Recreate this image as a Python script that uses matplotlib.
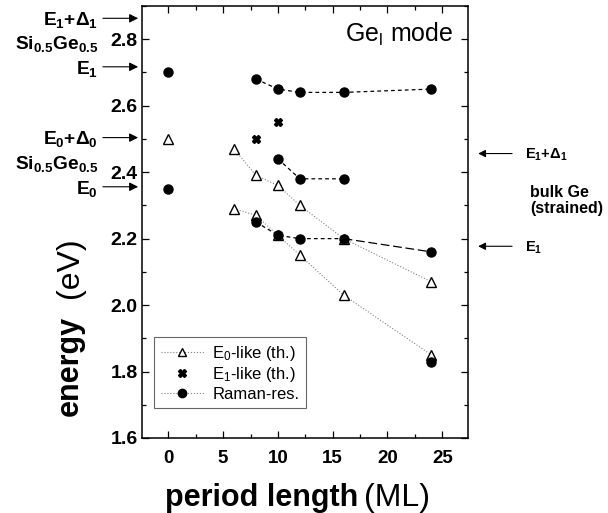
import matplotlib
matplotlib.use('Agg')
import matplotlib.pyplot as plt
from matplotlib.ticker import MultipleLocator
from matplotlib.lines import Line2D
from matplotlib.transforms import offset_copy

plt.rcParams['font.family'] = ['Liberation Sans', 'DejaVu Sans']
plt.rcParams['mathtext.default'] = 'regular'

# ---- data ----
e0_x = [6, 8, 10, 12, 16, 24]
e0_upper = [2.47, 2.39, 2.36, 2.30, 2.20, 2.07]
e0_lower = [2.29, 2.27, 2.21, 2.15, 2.03, 1.85]
e0_bulk_x = [0]
e0_bulk_y = [2.50]
e1_x = [8, 10]
e1_y = [2.50, 2.55]
raman_bulk_x = [0, 0]
raman_bulk_y = [2.70, 2.35]
raman_top_x = [8, 10, 12, 16, 24]
raman_top_y = [2.68, 2.65, 2.64, 2.64, 2.65]
raman_mid_x = [10, 12, 16]
raman_mid_y = [2.44, 2.38, 2.38]
raman_low_x = [8, 10, 12, 16, 24]
raman_low_y = [2.25, 2.21, 2.20, 2.20, 2.16]
raman_extra_x = [24]
raman_extra_y = [1.83]

x_ticks = [0, 5, 10, 15, 20, 25]
y_ticks = [1.6, 1.8, 2.0, 2.2, 2.4, 2.6, 2.8]

left_labels = ['E$_1$+Δ$_1$', 'E$_1$', 'E$_0$+Δ$_0$', 'E$_0$']
left_levels = [2.863, 2.717, 2.504, 2.356]
alloy_label = 'Si$_{0.5}$Ge$_{0.5}$'
alloy_levels = [2.792, 2.431]
right_labels = ['E$_1$+Δ$_1$', 'E$_1$']
right_levels = [2.456, 2.177]

fig = plt.figure(figsize=(6.08, 5.13), dpi=100)
ax = fig.add_axes([0.2336, 0.1462, 0.5362, 0.8421])

dotc = '0.5'
short_dash = (0, (3, 2.5))
long_dash = (0, (7, 3))

# E0-like theory (dotted lines, open triangles)
ax.plot(e0_x, e0_upper, linestyle=':', color=dotc, lw=0.8, zorder=2)
ax.plot(e0_x, e0_lower, linestyle=':', color=dotc, lw=0.8, zorder=2)
tri_kw = dict(marker='^', ms=6.5, mfc='white', mec='black', mew=1.0, linestyle='none', zorder=3)
ax.plot(e0_x, e0_upper, **tri_kw)
ax.plot(e0_x, e0_lower, **tri_kw)
ax.plot(e0_bulk_x, e0_bulk_y, **tri_kw)

# E1-like theory
ax.plot(e1_x, e1_y, marker='X', ms=5.5, color='black', mec='black', linestyle='none', zorder=4)

# Raman resonance
ax.plot(raman_top_x, raman_top_y, linestyle=short_dash, color='black', lw=0.9, zorder=2)
ax.plot(raman_mid_x, raman_mid_y, linestyle=short_dash, color='black', lw=0.9, zorder=2)
ax.plot(raman_low_x[:4], raman_low_y[:4], linestyle=short_dash, color='black', lw=0.9, zorder=2)
ax.plot(raman_low_x[3:], raman_low_y[3:], linestyle=long_dash, color='black', lw=0.9, zorder=2)
circ_kw = dict(marker='o', ms=6.5, color='black', linestyle='none', zorder=5)
for xs, ys in [(raman_bulk_x, raman_bulk_y), (raman_top_x, raman_top_y),
               (raman_mid_x, raman_mid_y), (raman_low_x, raman_low_y),
               (raman_extra_x, raman_extra_y)]:
    ax.plot(xs, ys, **circ_kw)

# axes
ax.set_xlim(-2.4, 27.35)
ax.set_ylim(1.6, 2.9)
ax.set_xticks(x_ticks)
ax.set_yticks(y_ticks)
ax.set_yticklabels([f'{v:.1f}' for v in y_ticks])
ax.xaxis.set_minor_locator(MultipleLocator(2.5))
ax.yaxis.set_minor_locator(MultipleLocator(0.1))
ax.tick_params(which='both', direction='in', top=True, right=True, width=0.9)
ax.tick_params(which='major', length=5)
ax.tick_params(which='minor', length=3)
ax.tick_params(axis='x', which='major', pad=9, labelsize=13.5)
ax.tick_params(axis='y', which='major', pad=3, labelsize=14)
for lab in ax.get_xticklabels() + ax.get_yticklabels():
    lab.set_fontweight('bold')
for sp in ax.spines.values():
    sp.set_linewidth(1.1)

# axis labels
fig.text(358 / 608, 1 - 506 / 513, 'period length', ha='right', va='baseline',
         fontsize=22, fontweight='bold')
fig.text(364 / 608, 1 - 506 / 513, '(ML)', ha='left', va='baseline', fontsize=23)
fig.text(78 / 608, 1 - 316 / 513, 'energy', ha='right', va='baseline', rotation=90,
         rotation_mode='anchor', fontsize=22, fontweight='bold')
fig.text(78 / 608, 1 - 298 / 513, '(eV)', ha='left', va='baseline', rotation=90,
         rotation_mode='anchor', fontsize=23)

# title-like label inside
ax.text(0.954, 0.917, 'Ge$_\\mathregular{l}$ mode', transform=ax.transAxes,
        ha='right', va='baseline', fontsize=18)

# left annotations
trans = ax.get_yaxis_transform()
arrow_l = dict(arrowstyle='-|>', color='black', lw=0.8, mutation_scale=13,
               shrinkA=0, shrinkB=0)
arrow_r = dict(arrowstyle='-|>', color='black', lw=0.8, mutation_scale=11,
               shrinkA=0, shrinkB=0)
ltrans = offset_copy(trans, fig=fig, y=-4.9, units='points')
for lab, lev in zip(left_labels, left_levels):
    ax.annotate('', xy=(-0.012, lev), xytext=(-0.12, lev), xycoords=trans,
                textcoords=trans, arrowprops=arrow_l, annotation_clip=False)
    ax.text(-0.135, lev, lab, transform=ltrans, ha='right', va='baseline',
            fontsize=13.8, fontweight='bold')
for lev in alloy_levels:
    ax.text(-0.135, lev, alloy_label, transform=ltrans, ha='right', va='baseline',
            fontsize=13.8, fontweight='bold')

# right annotations
rtrans = offset_copy(trans, fig=fig, y=-3.8, units='points')
for lab, lev in zip(right_labels, right_levels):
    ax.annotate('', xy=(1.031, lev), xytext=(1.135, lev), xycoords=trans,
                textcoords=trans, arrowprops=arrow_r, annotation_clip=False)
    ax.text(1.175, lev, lab, transform=rtrans, ha='left', va='baseline',
            fontsize=10.5, fontweight='bold')
ax.text(1.19, 2.34, 'bulk Ge', transform=rtrans, ha='left', va='baseline',
        fontsize=11.5, fontweight='bold')
ax.text(1.19, 2.293, '(strained)', transform=rtrans, ha='left', va='baseline',
        fontsize=11.5, fontweight='bold')

# legend
handles = [
    Line2D([], [], linestyle=':', color=dotc, lw=0.8, marker='^', ms=6,
           mfc='white', mec='black'),
    Line2D([], [], linestyle='none', marker='X', ms=5.5, color='black'),
    Line2D([], [], linestyle=':', color=dotc, lw=0.8, marker='o', ms=6,
           mfc='black', mec='black'),
]
leg = ax.legend(handles, ['E$_0$-like (th.)', 'E$_1$-like (th.)', 'Raman-res.'],
                loc='lower left', bbox_to_anchor=(0.037, 0.069), borderaxespad=0,
                fontsize=12, handlelength=2.6, labelspacing=0.15, borderpad=0.4,
                handletextpad=0.5, fancybox=False, framealpha=1)
leg.get_frame().set_edgecolor('0.4')
leg.get_frame().set_linewidth(0.8)

fig.savefig('out.png', dpi=100)
